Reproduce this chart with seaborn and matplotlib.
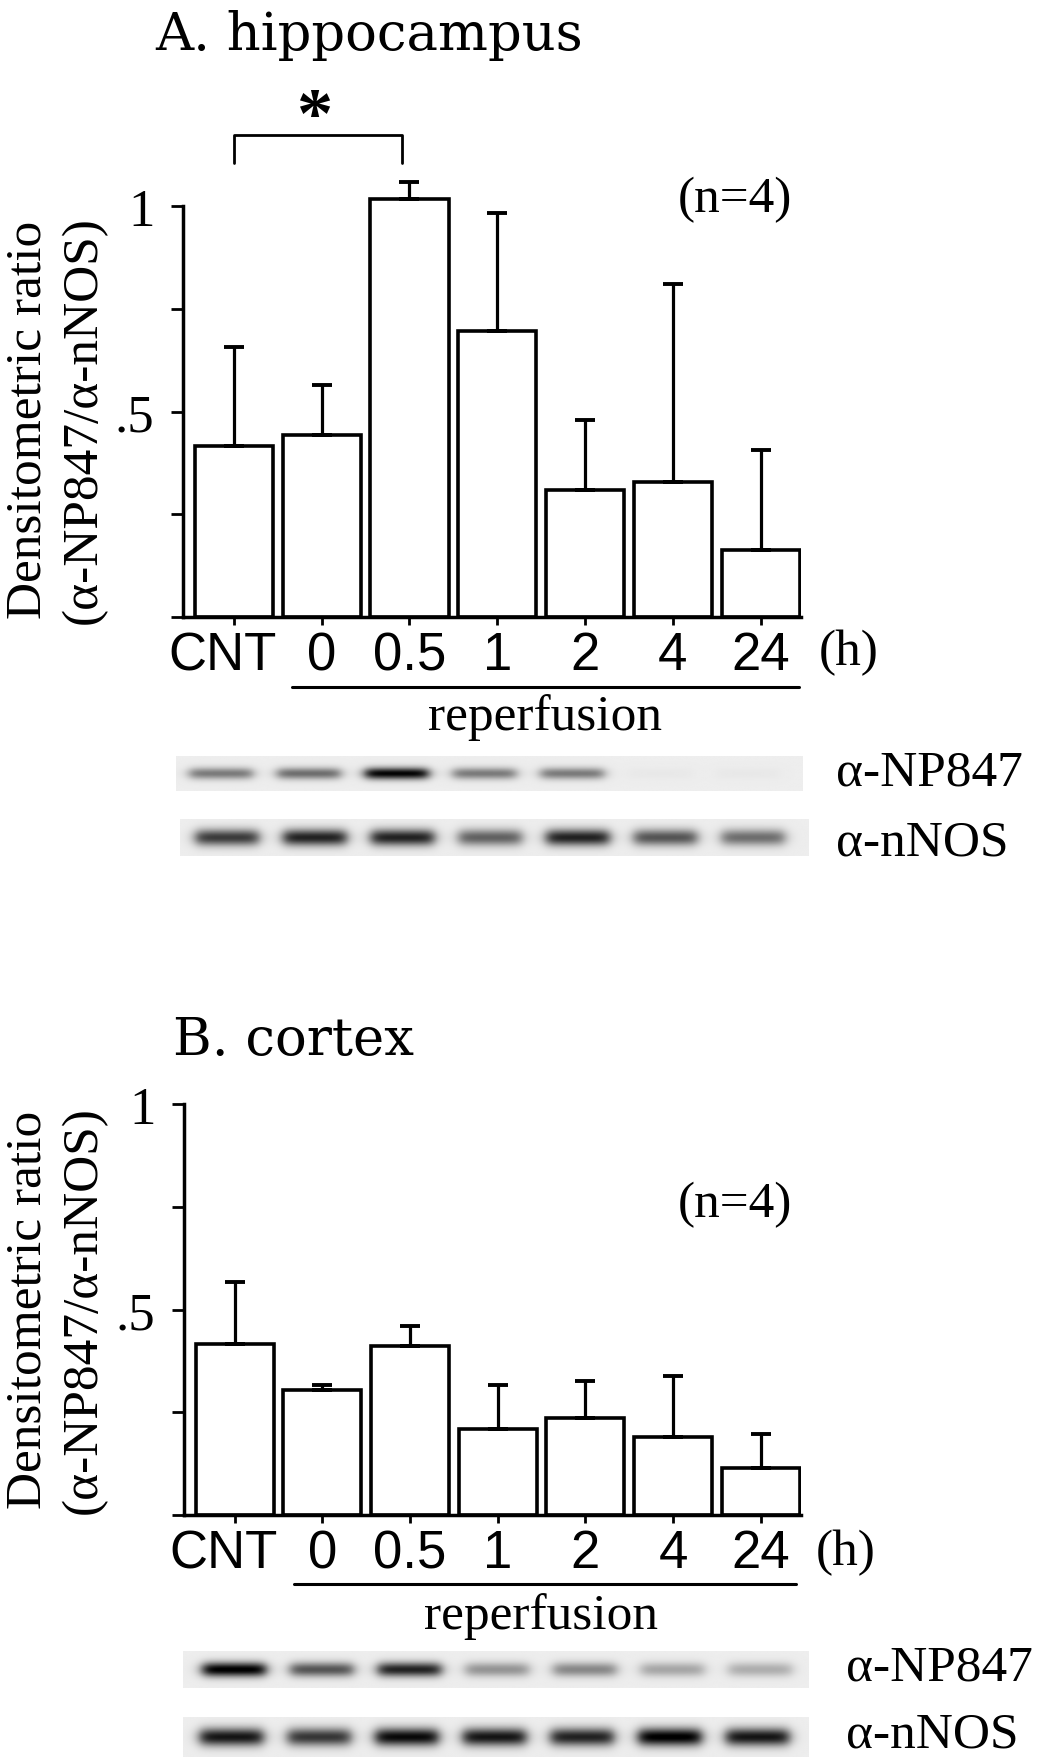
import numpy as np
import pandas as pd
import matplotlib
matplotlib.use("Agg")
import matplotlib.pyplot as plt
import matplotlib.transforms as mtransforms
import seaborn as sns

# ---------------- data ----------------
categories = ["CNT", "0", "0.5", "1", "2", "4", "24"]

hip_mean = [0.416, 0.443, 1.017, 0.696, 0.309, 0.328, 0.163]
hip_sem = [0.241, 0.122, 0.041, 0.287, 0.170, 0.482, 0.243]

ctx_mean = [0.415, 0.305, 0.412, 0.209, 0.237, 0.189, 0.115]
ctx_sem = [0.151, 0.012, 0.049, 0.108, 0.090, 0.149, 0.083]

# western blot band darkness (0 = none, 1 = black)
hip_np847 = [0.45, 0.50, 0.92, 0.45, 0.45, 0.02, 0.02]
hip_nnos = [0.70, 0.80, 0.80, 0.55, 0.80, 0.60, 0.50]
ctx_np847 = [0.95, 0.60, 0.80, 0.35, 0.40, 0.28, 0.25]
ctx_nnos = [0.85, 0.72, 0.90, 0.85, 0.80, 0.95, 0.85]

yticks = [0, 0.25, 0.5, 0.75, 1.0]
ytick_labels = ["", "", ".5", "", "1"]

# ---------------- style ----------------
sns.set_style("ticks")
plt.rcParams["font.family"] = ["Liberation Serif", "DejaVu Serif"]
plt.rcParams["text.color"] = "black"
plt.rcParams["axes.labelcolor"] = "black"
plt.rcParams["axes.edgecolor"] = "black"
plt.rcParams["xtick.color"] = "black"
plt.rcParams["ytick.color"] = "black"
plt.rcParams["xtick.labelcolor"] = "black"
plt.rcParams["ytick.labelcolor"] = "black"

W, H = 1046, 1758
fig = plt.figure(figsize=(W / 100, H / 100), dpi=100)
fig.patch.set_facecolor("white")

XLIM = (-0.58, 6.46)
PX_PER_UNIT = (801 - 183) / (XLIM[1] - XLIM[0])
TXT = dict(color="black")


def fx(px):
    return px / W


def fy(py):
    return 1 - py / H


def add_px(l, t, r, b):
    return fig.add_axes([l / W, 1 - b / H, (r - l) / W, (b - t) / H])


def bar_panel(ax, means, sems):
    df = pd.DataFrame({"time": categories, "ratio": means})
    sns.barplot(data=df, x="time", y="ratio", order=categories, color="white",
                edgecolor="black", linewidth=2.6, width=0.89, saturation=1,
                errorbar=None, ax=ax)
    n = len(categories)
    ax.errorbar(np.arange(n), means, yerr=[np.zeros(n), sems], fmt="none",
                ecolor="black", elinewidth=2.3, capsize=7, capthick=2.8, zorder=5)
    ax.set_xlim(*XLIM)
    ax.set_ylim(0, 1.1)
    ax.set_yticks(yticks)
    ax.set_yticklabels(ytick_labels)
    for s in ["top", "right"]:
        ax.spines[s].set_visible(False)
    ax.spines["left"].set_bounds(0, 1)
    ax.spines["left"].set_linewidth(2.5)
    ax.spines["bottom"].set_linewidth(2.5)
    ax.tick_params(axis="y", length=8.6, width=2.0, pad=12, labelsize=38,
                   direction="out", colors="black")
    ax.tick_params(axis="x", length=5.5, width=2.0, pad=4, labelsize=38,
                   direction="out", colors="black")
    labs = ax.get_xticklabels()
    for lab in labs:
        lab.set_fontfamily("Liberation Sans")
    # the "CNT" label sits a little left of its bar in the original
    shift = mtransforms.ScaledTranslation(-8 / 72, 0, fig.dpi_scale_trans)
    labs[0].set_transform(labs[0].get_transform() + shift)
    ax.set_xlabel("")
    ax.set_ylabel("")
    ax.set_facecolor("none")


def blot(l, t, r, b, intens, offset, sig):
    ax = add_px(l, t, r, b)
    x0 = XLIM[0] + (l - 183) / PX_PER_UNIT
    x1 = XLIM[0] + (r - 183) / PX_PER_UNIT
    xs = np.linspace(x0, x1, 700)
    ys = np.linspace(0, 1, 60)
    img = np.full((60, 700), 0.07)
    for i, v in enumerate(intens):
        pxp = 1 / (1 + np.exp((np.abs(xs - (i + offset)) - 0.36) / 0.04))
        pyp = np.exp(-0.5 * ((ys - 0.5) / sig) ** 2)
        img += v * np.outer(pyp, pxp)
    ax.imshow(np.clip(img, 0, 1), extent=(x0, x1, 0, 1), aspect="auto",
              cmap="gray_r", vmin=0, vmax=1, interpolation="bilinear")
    ax.set_xlim(x0, x1)
    ax.set_ylim(0, 1)
    ax.axis("off")


# ---------------- panel A ----------------
axA = add_px(183, 618 - 1.1 * 411, 801, 618)
bar_panel(axA, hip_mean, hip_sem)

fig.text(fx(155), fy(50), "A. hippocampus", fontsize=38, family="DejaVu Serif",
         ha="left", va="baseline", **TXT)
fig.text(fx(56), fy(420), "Densitometric ratio\n(α-NP847/α-nNOS)", fontsize=37,
         rotation=90, ha="center", va="center", multialignment="center",
         linespacing=1.25, **TXT)
fig.text(fx(735), fy(200), "(n=4)", fontsize=37, ha="center", va="center", **TXT)
fig.text(fx(849), fy(653), "(h)", fontsize=37, ha="center", va="center", **TXT)

# significance bracket (CNT vs 0.5 h)
axA.plot([0.0, 0.0, 1.92, 1.92], [1.105, 1.173, 1.173, 1.105], color="black",
         lw=2.0, clip_on=False)
fig.text(fx(315), fy(137), "*", fontsize=52, fontweight="bold", ha="center",
         va="baseline", **TXT)

# reperfusion underline
axA.plot([0.66, 6.44], [-0.170, -0.170], color="black", lw=2.2, clip_on=False)
fig.text(fx(545), fy(718), "reperfusion", fontsize=37, ha="center", va="center", **TXT)

blot(176, 757, 802, 792, hip_np847, -0.15, 0.12)
blot(180, 820, 809, 857, hip_nnos, -0.08, 0.16)
fig.text(fx(836), fy(773), "α-NP847", fontsize=37, ha="left", va="center", **TXT)
fig.text(fx(836), fy(843), "α-nNOS", fontsize=37, ha="left", va="center", **TXT)

# ---------------- panel B ----------------
axB = add_px(184, 1516 - 1.1 * 411, 801, 1516)
bar_panel(axB, ctx_mean, ctx_sem)

fig.text(fx(173), fy(1055), "B. cortex", fontsize=38, family="DejaVu Serif",
         ha="left", va="baseline", **TXT)
fig.text(fx(56), fy(1310), "Densitometric ratio\n(α-NP847/α-nNOS)", fontsize=37,
         rotation=90, ha="center", va="center", multialignment="center",
         linespacing=1.25, **TXT)
fig.text(fx(735), fy(1205), "(n=4)", fontsize=37, ha="center", va="center", **TXT)
fig.text(fx(846), fy(1553), "(h)", fontsize=37, ha="center", va="center", **TXT)

axB.plot([0.67, 6.40], [-0.168, -0.168], color="black", lw=2.2, clip_on=False)
fig.text(fx(541), fy(1617), "reperfusion", fontsize=37, ha="center", va="center", **TXT)

blot(183, 1652, 809, 1689, ctx_np847, 0.0, 0.14)
blot(183, 1718, 809, 1758, ctx_nnos, -0.03, 0.16)
fig.text(fx(846), fy(1668), "α-NP847", fontsize=37, ha="left", va="center", **TXT)
fig.text(fx(846), fy(1735), "α-nNOS", fontsize=37, ha="left", va="center", **TXT)

fig.savefig("out.png", dpi=100, facecolor="white")
